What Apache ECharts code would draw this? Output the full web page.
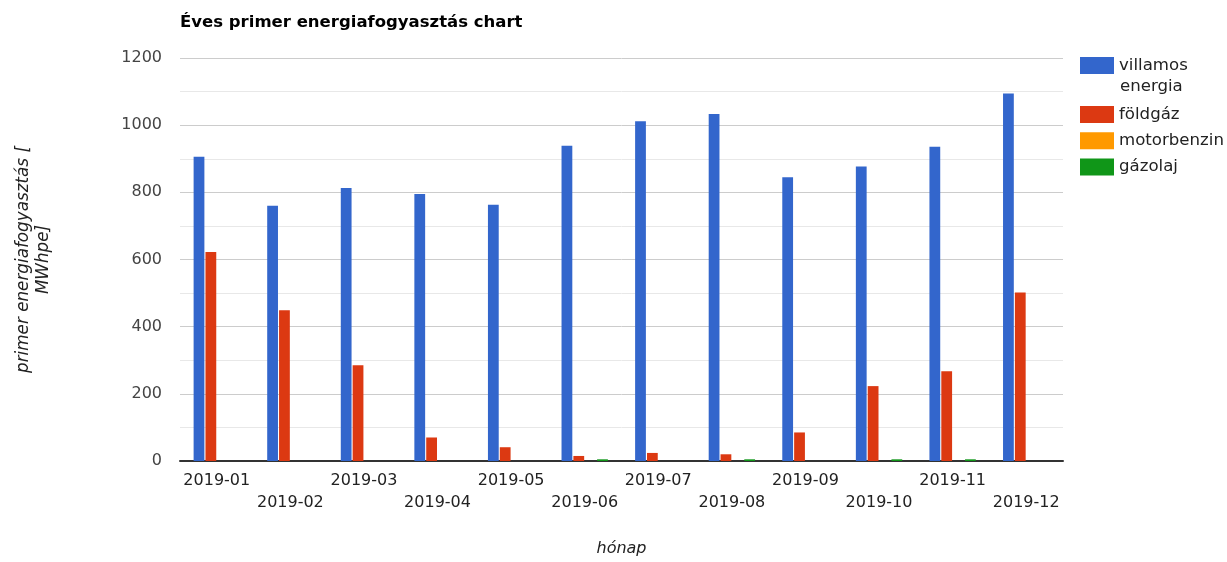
<!DOCTYPE html>
<html>
<head>
<meta charset="utf-8">
<script src="https://cdn.jsdelivr.net/npm/echarts@6/dist/echarts.min.js"></script>
<style>
html,body{margin:0;padding:0;background:#fff;}
#chart{width:1227px;height:562px;}
</style>
</head>
<body>
<div id="chart"></div>
<script>
const months = ['2019-01','2019-02','2019-03','2019-04','2019-05','2019-06','2019-07','2019-08','2019-09','2019-10','2019-11','2019-12'];
const villamosEnergia = [906, 760, 813, 795, 763, 939, 1012, 1033, 845, 877, 936, 1094];
const foldgaz = [622, 449, 285, 70, 41, 15, 24, 20, 85, 223, 267, 502];
const motorbenzin = [0, 0, 0, 0, 0, 0, 0, 0, 0, 0, 0, 0];
const gazolaj = [0, 0, 0, 0, 0, 5, 0, 5, 0, 5, 5, 0];
const seriesNames = ['villamos energia', 'földgáz', 'motorbenzin', 'gázolaj'];
const seriesColors = ['#3366cc', '#dc3912', '#ff9900', '#109618'];
const yTicks = [0, 200, 400, 600, 800, 1000, 1200];

const FONT = 'DejaVu Sans';
const chart = echarts.init(document.getElementById('chart'), null, {renderer: 'canvas'});
const values = [villamosEnergia, foldgaz, motorbenzin, gazolaj];
const legendText = {fontFamily: FONT, fontSize: 16.6, color: '#222', lineHeight: 17};

chart.setOption({
  animation: false,
  textStyle: {fontFamily: FONT},
  title: {
    text: 'Éves primer energiafogyasztás chart',
    left: 175, top: 9,
    textStyle: {fontFamily: FONT, fontSize: 16.5, fontWeight: 'bold', color: '#000'}
  },
  legend: [
    {
      orient: 'vertical', left: 1075, top: 52,
      itemWidth: 34, itemHeight: 17, itemGap: 9, icon: 'rect', selectedMode: false,
      formatter: function (n) { return n.split(' ')[0]; },
      textStyle: legendText,
      data: [seriesNames[0]]
    },
    {
      orient: 'vertical', left: 1075, top: 101,
      itemWidth: 34, itemHeight: 17, itemGap: 9.2, icon: 'rect', selectedMode: false,
      textStyle: legendText,
      data: [seriesNames[1], seriesNames[2], seriesNames[3]]
    }
  ],
  graphic: [{
    type: 'text', left: 1120, top: 78,
    style: {text: seriesNames[0].split(' ')[1], fill: '#222', font: '16.6px "DejaVu Sans"'}
  }],
  grid: {left: 180, top: 58, width: 883, height: 408, containLabel: false},
  xAxis: {
    type: 'category',
    data: months,
    name: 'hónap',
    nameLocation: 'middle',
    nameGap: 80,
    nameTextStyle: {fontFamily: FONT, fontSize: 16, fontStyle: 'italic', color: '#222'},
    axisLine: {lineStyle: {color: '#333', width: 2}},
    axisTick: {show: false},
    axisLabel: {
      interval: 0, margin: 9,
      fontFamily: FONT, fontSize: 16, color: '#222', lineHeight: 22,
      formatter: function (v, i) { return i % 2 === 1 ? '\n' + v : v; }
    }
  },
  yAxis: {
    type: 'value',
    min: yTicks[0], max: yTicks[yTicks.length - 1], interval: 200,
    name: 'primer energiafogyasztás [\nMWhpe]',
    nameLocation: 'middle',
    nameRotate: 90,
    nameGap: 126,
    nameTextStyle: {fontFamily: FONT, fontSize: 16.8, fontStyle: 'italic', color: '#222', lineHeight: 20},
    axisLine: {show: false},
    axisTick: {show: false},
    axisLabel: {fontFamily: FONT, fontSize: 16, color: '#444', margin: 18,
      formatter: function (v) { return String(v); }},
    splitLine: {lineStyle: {color: '#cccccc', width: 1}},
    minorTick: {show: false, splitNumber: 2},
    minorSplitLine: {show: true, lineStyle: {color: '#e8e8e8', width: 1}}
  },
  series: seriesNames.map(function (n, i) {
    return {
      name: n, type: 'bar', data: values[i],
      itemStyle: {color: seriesColors[i]},
      barGap: '10%', barCategoryGap: '37%'
    };
  })
});
</script>
</body>
</html>
